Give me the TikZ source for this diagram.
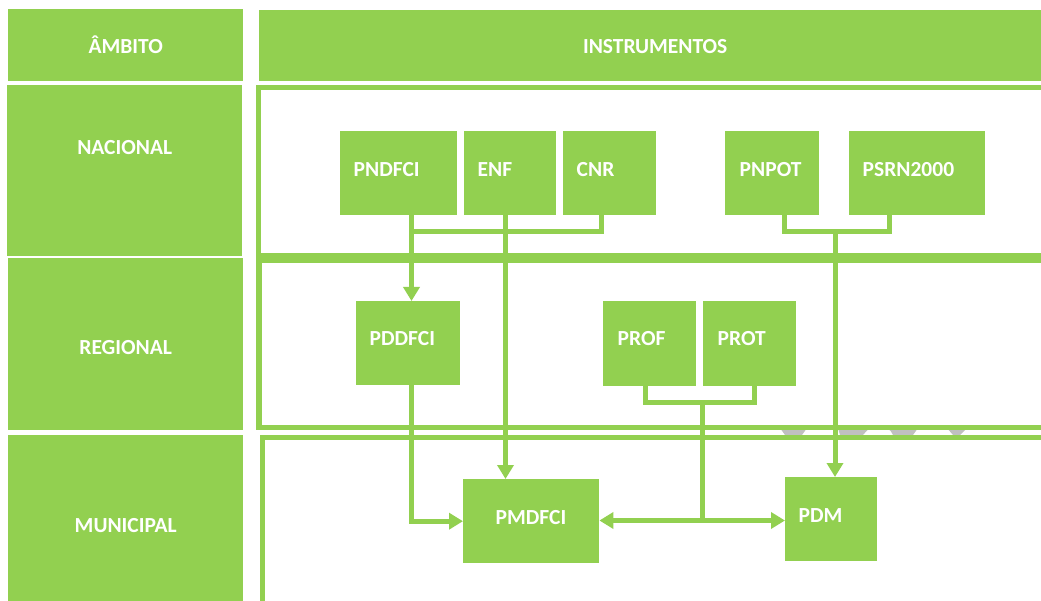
\documentclass[tikz,border=0pt]{standalone}
\usepackage{fontspec}
\setmainfont{Carlito}
\usetikzlibrary{arrows.meta,calc}
\definecolor{lgreen}{HTML}{92D050}
\definecolor{artg}{HTML}{C0C0C0}
\begin{document}
\begin{tikzpicture}[x=1pt,y=-1pt,
  box/.style={fill=lgreen, draw=none, inner sep=0pt, anchor=north west},
  lbl/.style={text=white, font=\bfseries\fontsize{21.5}{24}\selectfont, inner sep=0pt},
  frame/.style={draw=lgreen, line width=5.5pt},
  conn/.style={draw=lgreen, line width=5pt},
  arr/.style={conn, -{Triangle[length=14pt,width=16pt]}},
]
\useasboundingbox (0,0) rectangle (1041,601);
\clip (0,0) rectangle (1041,601);

% header and scope boxes
\node[box, minimum width=235pt, minimum height=72pt] (amb) at (8,9) {};
\node[box, minimum width=790pt, minimum height=71pt] (ins) at (259,10) {};
\node[box, minimum width=235pt, minimum height=171pt] (nac) at (7,85) {};
\node[box, minimum width=235pt, minimum height=172pt] (reg) at (8,258) {};
\node[box, minimum width=235pt, minimum height=180pt] (mun) at (8,435) {};

\node[lbl, anchor=base] (amb-t) at ($(amb.north)+(0,45)$) {ÂMBITO};
\node[lbl, anchor=base] (ins-t) at ($(ins.north)+(1,44)$) {INSTRUMENTOS};
\node[lbl, anchor=base] (nac-t) at ($(nac.north)+(0,70)$) {NACIONAL};
\node[lbl, anchor=base] (reg-t) at ($(reg.north)+(0,97)$) {REGIONAL};
\node[lbl, anchor=base] (mun-t) at ($(mun.north)+(0,97)$) {MUNICIPAL};

% gray fragments peeking between frames
\fill[artg] (780,428) -- (807,428) -- (802,435) -- (785,435) -- cycle;
\fill[artg] (838,428) -- (870,428) .. controls (866,431) and (865,433) .. (863,435) -- (840,435) -- cycle;
\fill[artg] (887,428) -- (918,428) -- (913,435) -- (893,435) .. controls (892,432) and (890,430) .. cycle;
\fill[artg] (947,428) -- (967,428) -- (960,435) -- (953,435) -- cycle;

% frames
\draw[frame] (1050,87.5) -- (258.5,87.5) -- (258.5,255.5) -- (1050,255.5);
\draw[frame] (1050,260.5) -- (259,260.5) -- (259,427.5) -- (1050,427.5);
\draw[frame] (1050,437.5) -- (262.5,437.5) -- (262.5,610);

% instrument boxes
\node[box, minimum width=117pt, minimum height=84pt] (pndfci) at (340,131) {};
\node[box, minimum width=92pt, minimum height=84pt] (enf) at (464,131) {};
\node[box, minimum width=93pt, minimum height=84pt] (cnr) at (563,131) {};
\node[box, minimum width=94pt, minimum height=84pt] (pnpot) at (725,131) {};
\node[box, minimum width=136pt, minimum height=84pt] (psrn) at (849,131) {};
\node[box, minimum width=104pt, minimum height=84pt] (pddfci) at (356,301) {};
\node[box, minimum width=93pt, minimum height=85pt] (prof) at (603,301) {};
\node[box, minimum width=93pt, minimum height=85pt] (prot) at (703,301) {};
\node[box, minimum width=136pt, minimum height=84pt] (pmdfci) at (463,479) {};
\node[box, minimum width=92pt, minimum height=84pt] (pdm) at (785,477) {};

\node[lbl, anchor=base west] (pndfci-t) at ($(pndfci.north west)+(13.5,46)$) {PNDFCI};
\node[lbl, anchor=base west] (enf-t) at ($(enf.north west)+(13.5,46)$) {ENF};
\node[lbl, anchor=base west] (cnr-t) at ($(cnr.north west)+(13.5,46)$) {CNR};
\node[lbl, anchor=base west] (pnpot-t) at ($(pnpot.north west)+(14.5,46)$) {PNPOT};
\node[lbl, anchor=base west] (psrn-t) at ($(psrn.north west)+(13.5,46)$) {PSRN2000};
\node[lbl, anchor=base west] (pddfci-t) at ($(pddfci.north west)+(13.5,45)$) {PDDFCI};
\node[lbl, anchor=base west] (prof-t) at ($(prof.north west)+(14.5,45)$) {PROF};
\node[lbl, anchor=base west] (prot-t) at ($(prot.north west)+(14.5,45)$) {PROT};
\node[lbl, anchor=base west] (pmdfci-t) at ($(pmdfci.north west)+(32.5,45)$) {PMDFCI};
\node[lbl, anchor=base west] (pdm-t) at ($(pdm.north west)+(13.5,45)$) {PDM};

% junction coordinates
\coordinate (ja) at (411.5,231.5);
\coordinate (jb) at (601,231.5);
\coordinate (je) at (505.5,300);
\coordinate (jc) at (784.5,231.5);
\coordinate (jd) at (889.5,231.5);
\coordinate (jm) at (835,231.5);
\coordinate (jf) at (645.5,402);
\coordinate (jg) at (754.5,402);
\coordinate (jr) at (702.5,402);
\coordinate (jq) at (702.5,520.5);

% connectors
\draw[arr] (pndfci.south -| ja) -- (pddfci.north -| ja);
\draw[conn] (ja) -- (jb) -- (cnr.south -| jb);
\draw[arr] (enf.south -| je) -- (pmdfci.north -| je);
\draw[conn] (pnpot.south -| jc) -- (jc) -- (jd) -- (psrn.south -| jd);
\draw[arr] (jm) -- (pdm.north -| jm);
\draw[arr] (pddfci.south -| ja) |- (pmdfci.west);
\draw[conn] (prof.south -| jf) -- (jf) -- (jg) -- (prot.south -| jg);
\draw[conn] (jr) -- (jq);
\draw[arr] (jq) -- (jq -| pmdfci.east);
\draw[arr] (jq) -- (jq -| pdm.west);
\end{tikzpicture}
\end{document}
